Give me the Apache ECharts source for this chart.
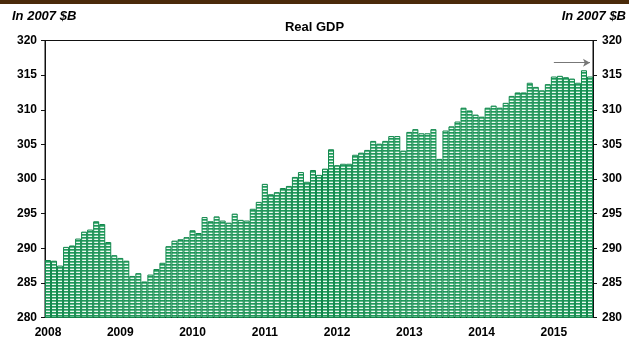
<!DOCTYPE html>
<html>
<head>
<meta charset="utf-8">
<script src="https://cdn.jsdelivr.net/npm/echarts@6/dist/echarts.min.js"></script>
<style>
html,body{margin:0;padding:0;background:#fff;}
#chart{width:629px;height:341px;}
</style>
</head>
<body>
<div id="chart"></div>
<script>
// ---- data ----
const startYear = 2008;
const yearLabels = ['2008','2009','2010','2011','2012','2013','2014','2015'];
const gdpValues = [
  288.3, 288.2, 287.5, 290.2, 290.4, 291.4, 292.4, 292.7, 293.9, 293.5, 290.9, 289.0,
  288.6, 288.2, 286.0, 286.4, 285.2, 286.2, 287.0, 287.9, 290.3, 291.1, 291.3, 291.6,
  292.6, 292.2, 294.5, 293.9, 294.6, 294.0, 293.7, 295.0, 294.1, 294.0, 295.7, 296.7,
  299.3, 297.8, 298.1, 298.7, 299.0, 300.3, 301.0, 299.6, 301.3, 300.6, 301.5, 304.3,
  302.0, 302.2, 302.2, 303.5, 303.8, 304.2, 305.5, 305.1, 305.5, 306.2, 306.2, 304.1,
  306.8, 307.2, 306.6, 306.6, 307.2, 302.9, 307.0, 307.6, 308.3, 310.3, 309.9, 309.3,
  309.0, 310.3, 310.6, 310.3, 311.0, 312.0, 312.5, 312.5, 313.9, 313.3, 312.8, 313.7,
  314.8, 314.9, 314.7, 314.5, 313.9, 315.7, 314.8
];
const yMin = 280, yMax = 320, yStep = 5;
const arrowFrom = ['2015-01', 316.8];
const arrowTo = ['2015-07', 316.8];
const unitLabel = 'In 2007 $B';
const chartTitle = 'Real GDP';

// month categories
const months = [];
for (let i = 0; i < gdpValues.length; i++) {
  const y = startYear + Math.floor(i / 12);
  const m = (i % 12) + 1;
  months.push(y + '-' + (m < 10 ? '0' + m : m));
}

// striped fill pattern
const pc = document.createElement('canvas');
pc.width = 4; pc.height = 3;
const pctx = pc.getContext('2d');
const rows = ['#1f9a5b', '#5dbb89', '#eef9f3'];
rows.forEach((c, i) => { pctx.fillStyle = c; pctx.fillRect(0, i, 4, 1); });

const chart = echarts.init(document.getElementById('chart'), null, {renderer: 'canvas'});
const axisColor = '#111';
const lblFont = {fontFamily: 'Liberation Sans, Arial, sans-serif', fontWeight: 'bold', fontSize: 12, color: '#000'};

chart.setOption({
  backgroundColor: '#fff',
  animation: false,
  title: [
    {text: chartTitle, left: 'center', top: 21, padding: 0,
     textStyle: {fontFamily: 'Liberation Sans, Arial, sans-serif', fontWeight: 'bold', fontSize: 13, color: '#000'}},
    {text: unitLabel, left: 12, top: 10, padding: 0,
     textStyle: {fontFamily: 'Liberation Sans, Arial, sans-serif', fontWeight: 'bold', fontStyle: 'italic', fontSize: 13, color: '#000'}},
    {text: unitLabel, right: 3, top: 10, padding: 0,
     textStyle: {fontFamily: 'Liberation Sans, Arial, sans-serif', fontWeight: 'bold', fontStyle: 'italic', fontSize: 13, color: '#000'}}
  ],
  graphic: [
    {type: 'rect', left: 0, top: 0, shape: {width: 629, height: 4}, style: {fill: '#4a2a0a'}}
  ],
  grid: {left: 45, right: 36, top: 40.5, bottom: 23.5, show: true, borderColor: axisColor, borderWidth: 1, backgroundColor: 'transparent'},
  xAxis: {
    type: 'category',
    data: months,
    boundaryGap: true,
    axisLine: {show: true, lineStyle: {color: axisColor}},
    axisTick: {show: false},
    axisLabel: Object.assign({
      interval: 0,
      margin: 9,
      formatter: function (v) { return v.slice(5) === '01' ? v.slice(0, 4) : ''; }
    }, lblFont)
  },
  yAxis: [
    {type: 'value', min: yMin, max: yMax, interval: yStep, position: 'left',
     splitLine: {show: false},
     axisLine: {show: true, lineStyle: {color: axisColor}},
     axisTick: {show: true, length: 4, lineStyle: {color: axisColor}},
     axisLabel: Object.assign({margin: 8}, lblFont)},
    {type: 'value', min: yMin, max: yMax, interval: yStep, position: 'right',
     splitLine: {show: false},
     axisLine: {show: true, lineStyle: {color: axisColor}},
     axisTick: {show: true, length: 4, lineStyle: {color: axisColor}},
     axisLabel: Object.assign({margin: 9}, lblFont)}
  ],
  series: [{
    type: 'bar',
    data: gdpValues,
    barCategoryGap: '0%',
    itemStyle: {
      color: {image: pc, repeat: 'repeat'},
      borderColor: '#11874c',
      borderWidth: 1
    },
    markLine: {
      silent: true,
      symbol: ['none', 'arrow'],
      symbolSize: [6, 7],
      label: {show: false},
      lineStyle: {color: '#777', width: 1, type: 'solid'},
      data: [[{coord: arrowFrom}, {coord: arrowTo}]]
    }
  }]
});
</script>
</body>
</html>
